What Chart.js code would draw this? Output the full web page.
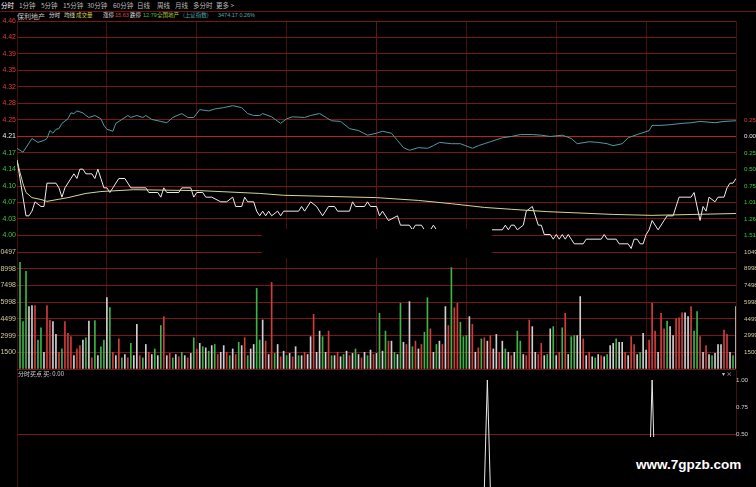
<!DOCTYPE html>
<html>
<head>
<meta charset="utf-8">
<script src="https://cdn.jsdelivr.net/npm/chart.js@4.4.0/dist/chart.umd.min.js"></script>
<style>
body { margin:0; background:#000; width:756px; height:487px; overflow:hidden; position:relative;
       font-family:"Noto Sans CJK SC", sans-serif; }
canvas { position:absolute; left:0; }
.t { position:absolute; white-space:nowrap; line-height:1; }
.menu { top:2px; font-size:6.5px; color:#bdbdbd; }
.hd { top:13px; font-size:5.5px; }
.num { font-family:"Liberation Sans", sans-serif; font-size:5.5px; top:13px; }
.box { position:absolute; background:#000; z-index:5; }
</style>
</head>
<body>
<!-- top menu -->
<span class="t menu" style="left:1px;color:#fff">分时</span>
<span class="t menu" style="left:19px">1分钟</span>
<span class="t menu" style="left:41px">5分钟</span>
<span class="t menu" style="left:63px">15分钟</span>
<span class="t menu" style="left:87px">30分钟</span>
<span class="t menu" style="left:113px">60分钟</span>
<span class="t menu" style="left:137px">日线</span>
<span class="t menu" style="left:157px">周线</span>
<span class="t menu" style="left:175px">月线</span>
<span class="t menu" style="left:193px">多分时</span>
<span class="t menu" style="left:216px">更多 &gt;</span>
<div style="position:absolute;left:0;top:11px;width:756px;height:1px;background:#6e1212"></div>

<!-- header -->
<span class="t" style="left:17px;top:12.5px;font-size:7px;color:#c8c8c8">保利地产</span>
<span class="t hd" style="left:49px;color:#e8e8e8">分时</span>
<span class="t hd" style="left:64px;color:#e0e0c0">均线</span>
<span class="t hd" style="left:76px;color:#d8c850">成交量</span>
<span class="t hd" style="left:103px;color:#e0e0e0">涨停</span>
<span class="t num" style="left:115px;color:#e04040">15.63</span>
<span class="t hd" style="left:130px;color:#e0e0e0">跌停</span>
<span class="t num" style="left:143px;color:#40c040">12.79</span>
<span class="t hd" style="left:157px;color:#a8c840">全国地产</span>
<span class="t hd" style="left:183px;color:#50a8b0">(上证指数)</span>
<span class="t num" style="left:218px;color:#50a8b0">3474.17 0.26%</span>

<canvas id="cPrice" width="756" height="250" style="top:12px"></canvas>
<canvas id="cVol" width="756" height="132" style="top:244px"></canvas>
<canvas id="cInd" width="756" height="132" style="top:364px"></canvas>

<span class="t" style="left:18px;top:371px;font-size:6px;color:#d0d0d0">分时买点 买: 0.00</span>
<span class="t" style="left:722px;top:371px;font-size:6px;color:#c0c0c0">▾ ×</span>

<div class="box" style="left:262px;top:229px;width:230px;height:29px"></div>
<div class="box" style="left:628px;top:437px;width:128px;height:50px">
  <span class="t" style="left:8px;top:20px;font:bold 13.5px 'Liberation Sans',sans-serif;color:#fff">www.7gpzb.com</span>
</div>

<script>
// 价格 / 均价 (minute, price)
const priceT = [0,1,2,3,4,5,6,8,9,10,13,14,15,16,18,19,20,21,22,23,25,26,27,28,29,30,31,32,34,36,37,38,43,44,47,48,49,50,54,55,58,59,60,62,63,65,68,70,72,73,75,76,77,79,80,81,82,83,84,85,87,88,89,94,95,96,98,100,102,104,106,107,111,112,113,116,117,118,120,121,122,124,127,128,131,132,133,135,136,137,138,139,140,141,143,144,145,150,155,158,162,163,164,165,166,167,169,170,172,173,174,175,176,178,179,180,181,182,183,184,185,186,189,190,195,196,197,200,201,204,205,206,207,208,209,210,211,212,214,216,217,219,220,221,223,225,226,228,229,230,231,233,234,236,237,238,239,240];
const priceV = [4.16,4.12,4.08,4.04,4.04,4.05,4.07,4.06,4.06,4.11,4.11,4.10,4.08,4.10,4.12,4.13,4.12,4.14,4.14,4.13,4.13,4.12,4.14,4.12,4.10,4.10,4.09,4.10,4.12,4.12,4.11,4.10,4.10,4.09,4.09,4.08,4.10,4.09,4.09,4.10,4.10,4.08,4.09,4.09,4.08,4.08,4.07,4.07,4.08,4.06,4.06,4.08,4.07,4.07,4.05,4.04,4.05,4.04,4.05,4.04,4.05,4.04,4.05,4.05,4.06,4.05,4.07,4.06,4.04,4.06,4.06,4.05,4.05,4.07,4.06,4.06,4.07,4.06,4.06,4.04,4.05,4.03,4.04,4.02,4.02,4.01,4.02,4.02,4.01,4.00,4.01,4.02,4.01,4.00,4.00,4.01,4.00,3.99,4.00,4.01,4.01,4.02,4.01,4.02,4.02,4.01,4.02,4.05,4.06,4.04,4.02,4.02,4.00,4.00,3.99,4.00,3.99,4.00,3.99,4.00,3.99,3.98,3.98,3.99,3.99,4.00,3.99,3.99,3.98,3.98,3.97,3.99,3.99,3.98,3.98,4.00,4.01,4.03,4.01,4.03,4.04,4.04,4.06,4.08,4.08,4.08,4.09,4.03,4.06,4.05,4.08,4.07,4.08,4.08,4.10,4.11,4.11,4.12];
const avgT = [0,1,2,3,5,8,10,17,23,28,39,61,81,89,120,134,145,156,165,177,199,212,240];
const avgV = [4.159,4.133,4.109,4.090,4.079,4.075,4.071,4.079,4.088,4.092,4.096,4.094,4.088,4.084,4.079,4.073,4.066,4.058,4.054,4.049,4.043,4.041,4.045];

// 上证指数 涨跌幅 (%)
const idxT = [0,2,3,5,7,9,10,11,12,13,14,15,17,18,19,20,22,23,24,26,28,29,30,32,33,35,37,38,40,42,43,45,48,50,52,55,57,59,61,64,66,69,72,75,77,79,81,82,85,88,90,92,96,98,101,105,108,111,114,117,120,122,125,127,129,131,134,137,139,141,145,148,152,154,156,158,162,165,168,172,175,178,182,185,187,191,194,197,199,202,204,207,211,212,215,218,222,225,228,233,236,240];
const idxV = [-0.18,-0.24,-0.17,-0.03,-0.09,-0.06,-0.03,0.09,0.05,0.11,0.12,0.20,0.27,0.36,0.35,0.39,0.36,0.32,0.29,0.32,0.27,0.17,0.11,0.08,0.20,0.26,0.32,0.29,0.32,0.29,0.32,0.26,0.23,0.21,0.29,0.35,0.29,0.29,0.41,0.39,0.42,0.44,0.47,0.44,0.35,0.32,0.32,0.35,0.30,0.20,0.27,0.30,0.29,0.32,0.35,0.24,0.23,0.12,0.09,0.02,0.05,0.08,0.05,-0.06,-0.17,-0.21,-0.17,-0.18,-0.14,-0.09,-0.11,-0.11,-0.18,-0.14,-0.11,-0.08,-0.02,0.00,0.03,0.03,0.02,0.00,0.02,-0.03,-0.11,-0.08,-0.09,-0.11,-0.14,-0.11,-0.02,0.03,0.09,0.17,0.17,0.18,0.20,0.21,0.23,0.21,0.23,0.24];

// 成交量, one bar per minute; r = up, g = down, w = flat
const volV = [
 9580,4250,8770,5600,5700,5700,2600,3700,1500,5700,
 4400,4250,3100,1500,1800,4250,3200,2900,1200,1800,
 2100,2600,2800,4300,1000,4350,1200,2000,2600,6400,
 5500,1500,1200,2700,1000,1300,1000,2300,1200,4000,
 1200,1000,2200,1500,1300,1800,1200,3900,4700,1200,
 1400,1000,1300,1100,1500,1200,1000,1400,2800,1800,
 2300,2000,1900,1600,2100,2200,1300,1500,2100,1500,
 1200,1800,1300,2400,2100,2800,1200,1800,2200,7230,
 2600,4400,2500,1300,7770,1400,2200,1100,1600,1200,
 1400,1100,2000,1200,1200,1500,1300,2900,4900,1500,
 3400,2900,1500,3400,1200,1200,1500,1100,1300,1600,
 1200,1400,1800,1300,1000,1500,1200,1700,1300,1400,
 5000,1600,3400,2500,2500,1500,1300,5900,2400,2200,
 6050,2000,2500,1800,2200,3300,6400,3600,1500,2200,
 2500,2200,5600,3900,9100,5500,5900,4200,2900,3000,
 4700,4000,1500,1900,2700,2800,2500,3000,1800,3100,
 1500,2500,1800,1500,1200,1500,3400,2500,1300,1200,
 4400,3800,1500,1300,2300,1200,1300,3600,3800,1200,
 1500,3700,5000,1300,2900,3000,3000,6500,2700,1200,
 1500,1100,1000,1300,1200,1100,1300,2100,2300,2700,
 2400,2400,1500,1200,2900,2200,1300,1500,3200,1700,
 2600,5900,3400,1500,5000,3600,4300,3800,3000,4500,
 4600,5050,5050,4700,5600,3400,5150,2900,1500,2100,
 1300,1200,1400,2200,2200,3500,3100,1500,1200,5600];
const volDir = ('gggwwrggwr'+'rwwrgrrrwr'+'rwgwrgwggw'+'grwrgwrgww'+'rgwrwgwgrw'+
  'rgwrgwrwgr'+'wgwgwgrwwr'+'gwrgwrgwwg'+'gwrwrgwrwg'+'wrwgwrwwrw'+'wgwrgwrwgw'+
  'rwgwrwgwrw'+'gwgrwgwgwr'+'wgrwrggrwg'+'wrwrgrrggg'+'wrwrgrwrww'+'rwgwrwggwr'+
  'rwwrrwgwgw'+'rgrwggwwrw'+'rwgwrwgwwg'+'wwrwrrwgww'+'rrrwrrgwwr'+'rrwwrggrwr'+'wgwwwrrwgw').split('');

// 分时买点 indicator
const indT = [0,156,157,158,211,212,213,240];
const indV = [0,0,1,0,0,1,0,0];

// axis labels
const priceClose = 4.21, priceStep = 0.03536;
const priceTickLabels = ['4.46','4.42','4.39','4.35','4.32','4.28','4.25','4.21','4.17','4.14','4.10','4.07','4.03','4.00'];
const indexStep = 0.2515;
const indexTickLabels = ['0.25%','0.00%','0.25%','0.50%','0.75%','1.01%','1.26%','1.51%'];
const volTicks = [10497, 8998, 7498, 5998, 4499, 2999, 1500];
const indTicks = ['1.00','0.75','0.50'];

const RED = '#e03c3c', GREEN = '#3cc83c', WHITE = '#e8e8e8';
const GRID = '#7a1616', GRID_HI = '#c01e1e', VGRID = '#4a0d0d';
const tickFont = { family: 'Liberation Sans', size: 7 };
const rightFont = { family: 'Liberation Sans', size: 6.2 };
const RIGHT_W = 20;

function pts(ts, vs) { return ts.map((t, i) => ({ x: t, y: vs[i] })); }
function tv(c) { return c.tick ? c.tick.value : NaN; }

function xAxis() {
  return {
    type: 'linear', min: 0, max: 240, offset: false,
    ticks: { display: false, stepSize: 30 },
    grid: { drawTicks: false, offset: false, color: c => tv(c) === 120 ? '#641212' : VGRID },
    border: { display: false }
  };
}
const plain = { responsive: false, animation: false,
  plugins: { legend: { display: false }, tooltip: { enabled: false } } };

// price panel
new Chart(document.getElementById('cPrice'), {
  type: 'line',
  data: { datasets: [
    { data: pts(idxT, idxV), yAxisID: 'yi', borderColor: '#4e9ca2', borderWidth: 1, pointRadius: 0 },
    { data: pts(avgT, avgV), yAxisID: 'y', borderColor: '#d6d696', borderWidth: 1, pointRadius: 0 },
    { data: pts(priceT, priceV), yAxisID: 'y', borderColor: '#ececec', borderWidth: 1, pointRadius: 0 }
  ]},
  options: { ...plain,
    layout: { padding: { top: 9, bottom: 10 } },
    scales: {
      x: xAxis(),
      y: { position: 'left', min: priceClose - 7 * priceStep, max: priceClose + 7 * priceStep,
        afterFit: s => { s.width = 17; },
        afterBuildTicks: s => { s.ticks = priceTickLabels.map((l, k) => ({ value: priceClose + (7 - k) * priceStep })); },
        ticks: { autoSkip: false, padding: 1, font: tickFont,
          callback: (v, i) => priceTickLabels[i],
          color: c => tv(c) > priceClose + 1e-6 ? RED : (tv(c) < priceClose - 1e-6 ? GREEN : WHITE) },
        grid: { drawTicks: false, color: c => Math.abs(tv(c) - priceClose) < 1e-6 ? GRID_HI : GRID },
        border: { display: false } },
      yi: { position: 'right', min: -7 * indexStep, max: 7 * indexStep,
        afterFit: s => { s.width = RIGHT_W; },
        afterBuildTicks: s => { s.ticks = indexTickLabels.map((l, k) => ({ value: (1 - k) * indexStep })); },
        ticks: { autoSkip: false, padding: 0, font: rightFont,
          callback: (v, i) => indexTickLabels[i],
          color: c => tv(c) > 1e-6 ? RED : (tv(c) < -1e-6 ? GREEN : WHITE) },
        grid: { display: false }, border: { display: false } }
    } }
});

// volume panel
new Chart(document.getElementById('cVol'), {
  type: 'bar',
  data: { datasets: [{
    data: volV.map((v, i) => ({ x: i + 1, y: v })),
    backgroundColor: volDir.map(d => d === 'r' ? '#d23c3c' : d === 'g' ? '#3cb446' : '#cfcfcf'),
    barThickness: 1, borderWidth: 0, yAxisID: 'y'
  }]},
  options: { ...plain,
    layout: { padding: { top: 8, bottom: 7 } },
    scales: {
      x: xAxis(),
      y: { position: 'left', min: 0, max: volTicks[0],
        afterFit: s => { s.width = 17; },
        afterBuildTicks: s => { s.ticks = volTicks.concat([0]).map(v => ({ value: v })); },
        ticks: { autoSkip: false, padding: 1, font: tickFont, color: '#cfc8a0',
          callback: v => v === 0 ? '' : String(v) },
        grid: { drawTicks: false, color: GRID }, border: { display: false } },
      y2: { position: 'right', min: 0, max: volTicks[0],
        afterFit: s => { s.width = RIGHT_W; },
        afterBuildTicks: s => { s.ticks = volTicks.map(v => ({ value: v })); },
        ticks: { autoSkip: false, padding: 0, font: rightFont, color: '#cfc8a0',
          callback: v => String(v) },
        grid: { display: false }, border: { display: false } }
    } }
});

// indicator panel (zero level sits just below the visible edge)
new Chart(document.getElementById('cInd'), {
  type: 'line',
  data: { datasets: [{ data: pts(indT, indV), borderColor: '#e8e8e8', borderWidth: 1, pointRadius: 0 }] },
  options: { ...plain,
    layout: { padding: { top: 6, bottom: 8, left: 17 } },
    scales: {
      x: { type: 'linear', min: 0, max: 240,
        afterBuildTicks: s => { s.ticks = [{ value: 0 }, { value: 240 }]; },
        ticks: { display: false }, grid: { drawTicks: false, color: VGRID }, border: { display: false } },
      y: { position: 'right', min: 0, max: 1.0926,
        afterFit: s => { s.width = RIGHT_W; },
        afterBuildTicks: s => { s.ticks = indTicks.map(v => ({ value: parseFloat(v) })); },
        ticks: { autoSkip: false, padding: 0, font: rightFont, color: '#d0d0d0',
          callback: (v, i) => indTicks[i] },
        grid: { drawTicks: false, color: c => tv(c) === 0.5 ? GRID : 'rgba(0,0,0,0)' },
        border: { display: false } }
    } }
});
</script>
</body>
</html>
